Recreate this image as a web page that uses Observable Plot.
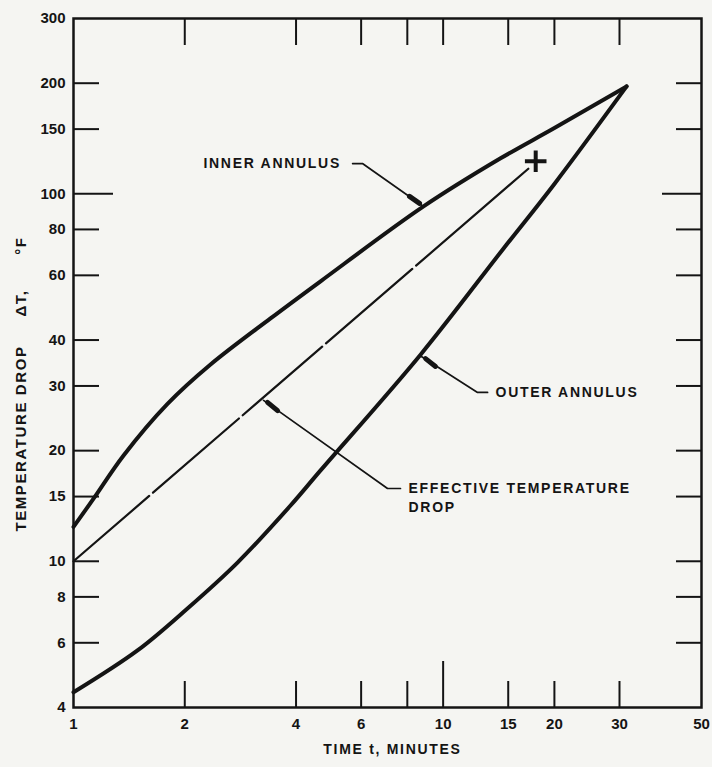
<!DOCTYPE html>
<html><head><meta charset="utf-8">
<script src="https://cdn.jsdelivr.net/npm/d3@7"></script>
<script src="https://cdn.jsdelivr.net/npm/@observablehq/plot@0.6"></script>
<style>
html,body{margin:0;padding:0;background:#f5f5f2;}
#chart{width:712px;height:767px;}
</style></head><body><div id="chart"></div>
<script>
// ---- data ----
const innerTime = [1, 1.133, 1.366, 1.796, 2.348, 3.412, 4.66, 8.85, 14.3, 20, 31.35];
const innerDrop = [12.4, 14.8, 19.4, 26.8, 34.3, 45.8, 57.8, 92.4, 124.9, 151, 196];
const outerTime = [1, 1.49, 2.034, 2.778, 3.865, 4.66, 8.687, 14.57, 20, 31.35];
const outerDrop = [4.4, 5.72, 7.44, 9.92, 14.18, 17.67, 36.5, 71, 106.4, 196];
const effectiveTime = [1, 17.0];
const effectiveDrop = [10, 117];
const markerTime = [17.8];
const markerDrop = [122.6];

const xTickLabels = [1, 2, 4, 6, 8, 10, 15, 20, 30, 50];
const yTickLabels = [4, 6, 8, 10, 15, 20, 30, 40, 60, 80, 100, 150, 200, 300];
const xShortTicks = [2, 4, 6, 8, 15, 20, 30];
const xLongTicks = [10];
const yShortTicks = [6, 8, 10, 15, 20, 30, 40, 60, 80, 150, 200];
const yLongTicks = [100];

const xTitle = "TIME t, MINUTES";
const yTitle = "TEMPERATURE DROP\u00a0\u00a0\u00a0\u00a0\u00a0ΔT,\u00a0\u00a0\u00a0\u00a0\u00a0\u00a0°F";

const noteText = ["INNER ANNULUS", "OUTER ANNULUS", "EFFECTIVE TEMPERATURE", "DROP"];
const noteTime = [2.247, 13.86, 8.062, 8.062];
const noteDrop = [120.9, 28.8, 15.78, 14.0];

const leaderId = ["inner", "inner", "inner", "outer", "outer", "outer", "eff", "eff", "eff"];
const leaderTime = [5.69, 6.05, 8.85, 13.19, 12.39, 8.69, 7.667, 7.072, 3.267];
const leaderDrop = [120.9, 120.9, 92.4, 28.8, 28.8, 36.2, 15.78, 15.78, 27.4];

const headTime1 = [8.11, 9.537, 3.565];
const headDrop1 = [98.4, 33.9, 25.7];
const headTime2 = [8.632, 8.963, 3.349];
const headDrop2 = [94.2, 35.6, 27.06];

// ---- tables ----
const inner = innerTime.map((t, i) => ({t, d: innerDrop[i]}));
const outer = outerTime.map((t, i) => ({t, d: outerDrop[i]}));
const effective = effectiveTime.map((t, i) => ({t, d: effectiveDrop[i]}));
const marker = markerTime.map((t, i) => ({t, d: markerDrop[i]}));
const notes = noteText.map((s, i) => ({s, t: noteTime[i], d: noteDrop[i]}));
const leaders = leaderId.map((id, i) => ({id, t: leaderTime[i], d: leaderDrop[i]}));
const heads = headTime1.map((t, i) => ({t1: t, d1: headDrop1[i], t2: headTime2[i], d2: headDrop2[i]}));

const ink = "#141414";
const font = "'Liberation Sans', Arial, sans-serif";
const fmt = d => String(d);

const chart = Plot.plot({
  width: 712,
  height: 767,
  marginLeft: 73,
  marginRight: 11,
  marginTop: 18,
  marginBottom: 60,
  style: {background: "#f5f5f2", color: ink, fontFamily: font},
  x: {type: "log", domain: [1, 50], label: null},
  y: {type: "log", domain: [4, 300], label: null},
  marks: [
    // inward ticks
    Plot.axisX({anchor: "bottom", ticks: xShortTicks, tickSize: -26, tickFormat: () => "", strokeWidth: 2, label: null}),
    Plot.axisX({anchor: "bottom", ticks: xLongTicks, tickSize: -46, tickFormat: () => "", strokeWidth: 2, label: null}),
    Plot.axisX({anchor: "top", ticks: xShortTicks.concat(xLongTicks), tickSize: -26, tickFormat: () => "", strokeWidth: 2, label: null}),
    Plot.axisY({anchor: "left", ticks: yShortTicks, tickSize: -26, tickFormat: () => "", strokeWidth: 2, label: null}),
    Plot.axisY({anchor: "left", ticks: yLongTicks, tickSize: -40, tickFormat: () => "", strokeWidth: 2, label: null}),
    Plot.axisY({anchor: "right", ticks: yShortTicks, tickSize: -26, tickFormat: () => "", strokeWidth: 2, label: null}),
    Plot.axisY({anchor: "right", ticks: yLongTicks, tickSize: -40, tickFormat: () => "", strokeWidth: 2, label: null}),
    // tick labels
    Plot.axisX({anchor: "bottom", ticks: xTickLabels, tickSize: 0, tickPadding: 11, tickFormat: fmt, fontSize: 15, fontWeight: "bold", label: null}),
    Plot.text(yTickLabels, {y: d => d, text: fmt, frameAnchor: "left", textAnchor: "end", dx: -8, fontSize: 15, fontWeight: "bold", fill: ink}),
    Plot.frame({stroke: ink, strokeWidth: 2.5}),
    // curves
    Plot.line(inner, {x: "t", y: "d", curve: "catmull-rom", stroke: ink, strokeWidth: 4}),
    Plot.line(outer, {x: "t", y: "d", curve: "catmull-rom", stroke: ink, strokeWidth: 4}),
    Plot.line(effective, {x: "t", y: "d", stroke: ink, strokeWidth: 2.2, strokeDasharray: "100,5,113.5,5,105,5,114,5,400"}),
    Plot.dot(marker, {x: "t", y: "d", symbol: "plus", r: 7, stroke: ink, strokeWidth: 4}),
    // annotations
    Plot.line(leaders, {x: "t", y: "d", z: "id", stroke: ink, strokeWidth: 1.7}),
    Plot.link(heads, {x1: "t1", y1: "d1", x2: "t2", y2: "d2", stroke: ink, strokeWidth: 5, strokeLinecap: "round"}),
    Plot.text(notes, {x: "t", y: "d", text: "s", textAnchor: "start", fontSize: 14, fontWeight: "bold", fill: ink}),
    Plot.text([xTitle], {text: d => d, frameAnchor: "bottom", dx: 5, dy: 46, fontSize: 14, fontWeight: "bold", fill: ink}),
    Plot.text([yTitle], {text: d => d, frameAnchor: "left", textAnchor: "middle", rotate: -90, dx: -52, dy: 21, fontSize: 15, fontWeight: "bold", fill: ink})
  ]
});

const svgSel = d3.select(chart);
svgSel.selectAll("text").filter(function () {
  const s = this.textContent;
  return noteText.includes(s) || s === xTitle;
}).style("letter-spacing", "1.7px");
svgSel.selectAll("text").filter(function () { return this.textContent === yTitle; }).style("letter-spacing", "1.6px");
document.getElementById("chart").appendChild(chart);
</script>
</body></html>
